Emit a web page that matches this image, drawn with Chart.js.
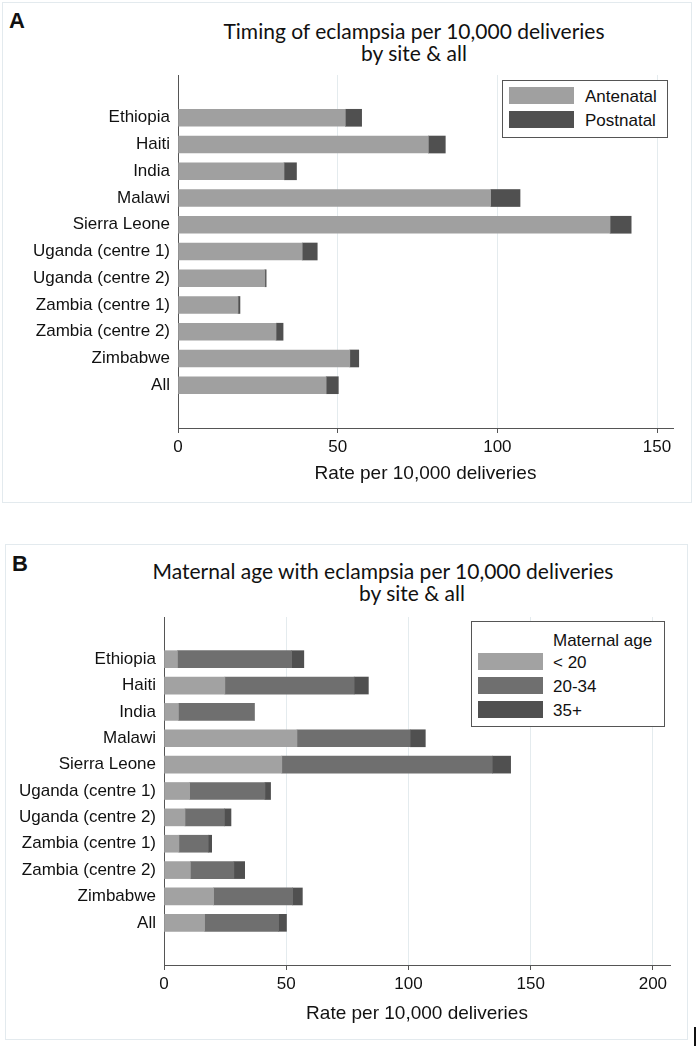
<!DOCTYPE html>
<html><head><meta charset="utf-8">
<script src="https://cdn.jsdelivr.net/npm/chart.js@4.4.1/dist/chart.umd.min.js"></script>
<style>
html,body{margin:0;padding:0;background:#fff;}
body{width:696px;height:1046px;position:relative;overflow:hidden;font-family:"Liberation Sans",Arial,sans-serif;}
.panel{position:absolute;border:1px solid #e3eaee;box-sizing:border-box;}
.letter{position:absolute;font-weight:bold;font-size:22px;line-height:1;color:#111;transform:translate(-50%,-50%);}
.title{position:absolute;font-family:Lato,"Open Sans",sans-serif;font-size:21px;line-height:1;color:#111;white-space:nowrap;transform:translate(-50%,-50%);}
.cv{position:absolute;left:0;}
.legend{position:absolute;background:#fff;border:1px solid #555;box-sizing:border-box;font-size:17px;color:#111;}
.legend .sw{position:absolute;width:65px;height:17px;}
.legend .lt{position:absolute;line-height:1;white-space:nowrap;transform:translateY(-50%);}
.mark{position:absolute;left:694px;top:1027px;width:2px;height:19px;background:#111;}
</style>
</head><body>
<div class="panel" style="left:2px;top:2px;width:690px;height:501px;"></div>
<div class="panel" style="left:5px;top:544px;width:683px;height:496px;"></div>
<div class="letter" style="left:17px;top:21px;">A</div>
<div class="letter" style="left:20px;top:564px;">B</div>
<div class="title" style="left:414px;top:30px;">Timing of eclampsia per 10,000 deliveries</div>
<div class="title" style="left:414px;top:52px;">by site &amp; all</div>
<div class="title" style="left:383px;top:570px;">Maternal age with eclampsia per 10,000 deliveries</div>
<div class="title" style="left:412px;top:592px;">by site &amp; all</div>
<canvas id="cA" class="cv" style="top:0px;" width="696" height="500"></canvas>
<canvas id="cB" class="cv" style="top:540px;" width="696" height="505"></canvas>
<div id="legA" class="legend" style="left:502px;top:80px;width:166px;height:58px;"></div>
<div id="legB" class="legend" style="left:471px;top:621px;width:194px;height:106px;"></div>
<div class="mark"></div>
<script>
const categories = ['Ethiopia','Haiti','India','Malawi','Sierra Leone','Uganda (centre 1)','Uganda (centre 2)','Zambia (centre 1)','Zambia (centre 2)','Zimbabwe','All'];

// Panel A: timing
const timingSeries = ['Antenatal','Postnatal'];
const antenatal = [52.4, 78.4, 33.2, 97.9, 135.3, 38.9, 27.2, 18.8, 30.7, 53.8, 46.4];
const postnatal = [5.1, 5.3, 3.9, 9.2, 6.6, 4.7, 0.4, 0.6, 2.2, 2.8, 3.8];
const timingColors = ['#a0a0a0', '#505050'];
const ticksA = [0, 50, 100, 150];
const maxA = 155;

// Panel B: maternal age
const ageSeries = ['< 20','20-34','35+'];
const ageUnder20 = [5.5, 24.9, 5.9, 54.4, 48.2, 10.5, 8.6, 6.1, 10.8, 20.3, 16.6];
const age20to34 = [46.7, 52.9, 31.0, 46.3, 86.1, 30.8, 16.1, 12.0, 17.8, 32.3, 30.3];
const age35plus = [5.0, 5.8, 0.0, 6.2, 7.5, 2.3, 2.7, 1.4, 4.4, 4.0, 3.2];
const ageColors = ['#a2a2a2', '#6f6f6f', '#505050'];
const ticksB = [0, 50, 100, 150, 200];
const maxB = 207;
const ageLegendTitle = 'Maternal age';

const axisTitle = 'Rate per 10,000 deliveries';

function toPoints(arr){ return arr.map((v,i)=>({x:v, y:i})); }

function makeChart(id, seriesNames, seriesData, colors, tickVals, xmax, geom){
  const datasets = seriesNames.map((n,k)=>({
    label:n, data:toPoints(seriesData[k]), backgroundColor:colors[k],
    borderWidth:0, barThickness:17
  }));
  return new Chart(document.getElementById(id), {
    type:'bar',
    data:{datasets},
    options:{
      indexAxis:'y', responsive:false, animation:false,
      layout:{padding:{top:geom.top, right:geom.right, left:0, bottom:0}},
      plugins:{legend:{display:false}, tooltip:{enabled:false}, title:{display:false}},
      scales:{
        x:{
          type:'linear', stacked:true, min:0, max:xmax,
          afterBuildTicks:(s)=>{ s.ticks = tickVals.map(v=>({value:v})); },
          afterFit:(s)=>{ s.height = geom.xh; },
          grid:{
            color:(c)=> (c.tick && c.tick.value===0) ? 'rgba(0,0,0,0)' : '#e4ebee',
            tickColor:'#555', tickLength:5, drawTicks:true, lineWidth:1
          },
          border:{display:true, color:'#555', width:1},
          ticks:{font:{family:'"Liberation Sans", Arial, sans-serif', size:17}, color:'#111', padding:4, maxRotation:0, autoSkip:false},
          title:{display:true, text:axisTitle, font:{family:'"Liberation Sans", Arial, sans-serif', size:19}, color:'#111', padding:{top:2, bottom:geom.tpad}}
        },
        y:{
          type:'linear', stacked:true, reverse:true, min:-1, max:11,
          afterBuildTicks:(s)=>{ s.ticks = categories.map((_,i)=>({value:i})); },
          afterFit:(s)=>{ s.width = geom.yw; },
          grid:{display:false, drawTicks:false},
          border:{display:true, color:'#555', width:1},
          ticks:{font:{family:'"Liberation Sans", Arial, sans-serif', size:17}, color:'#111', padding:8, autoSkip:false,
            callback:(v)=> categories[v] !== undefined ? categories[v] : ''}
        }
      }
    }
  });
}

makeChart('cA', timingSeries, [antenatal, postnatal], timingColors, ticksA, maxA, {top:75, right:23, xh:72, yw:178, tpad:15});
makeChart('cB', ageSeries, [ageUnder20, age20to34, age35plus], ageColors, ticksB, maxB, {top:77, right:26, xh:80, yw:164, tpad:20});

// HTML legends built from series arrays
function buildLegend(id, names, colors, header, headerLeft, firstRowTop){
  const el = document.getElementById(id);
  if (header){
    const h = document.createElement('div'); h.className='lt'; h.textContent=header;
    h.style.left = headerLeft+'px'; h.style.top = '18px'; el.appendChild(h);
  }
  names.forEach((n,k)=>{
    const top = firstRowTop + k*24;
    const sw = document.createElement('div'); sw.className='sw';
    sw.style.left='6px'; sw.style.top=top+'px'; sw.style.background=colors[k]; el.appendChild(sw);
    const t = document.createElement('div'); t.className='lt'; t.textContent=n;
    t.style.left = (header ? headerLeft : 82)+'px'; t.style.top=(top+8.5)+'px'; el.appendChild(t);
  });
}
buildLegend('legA', timingSeries, timingColors, null, 0, 6);
buildLegend('legB', ageSeries, ageColors, ageLegendTitle, 81, 31);
</script>
</body></html>
